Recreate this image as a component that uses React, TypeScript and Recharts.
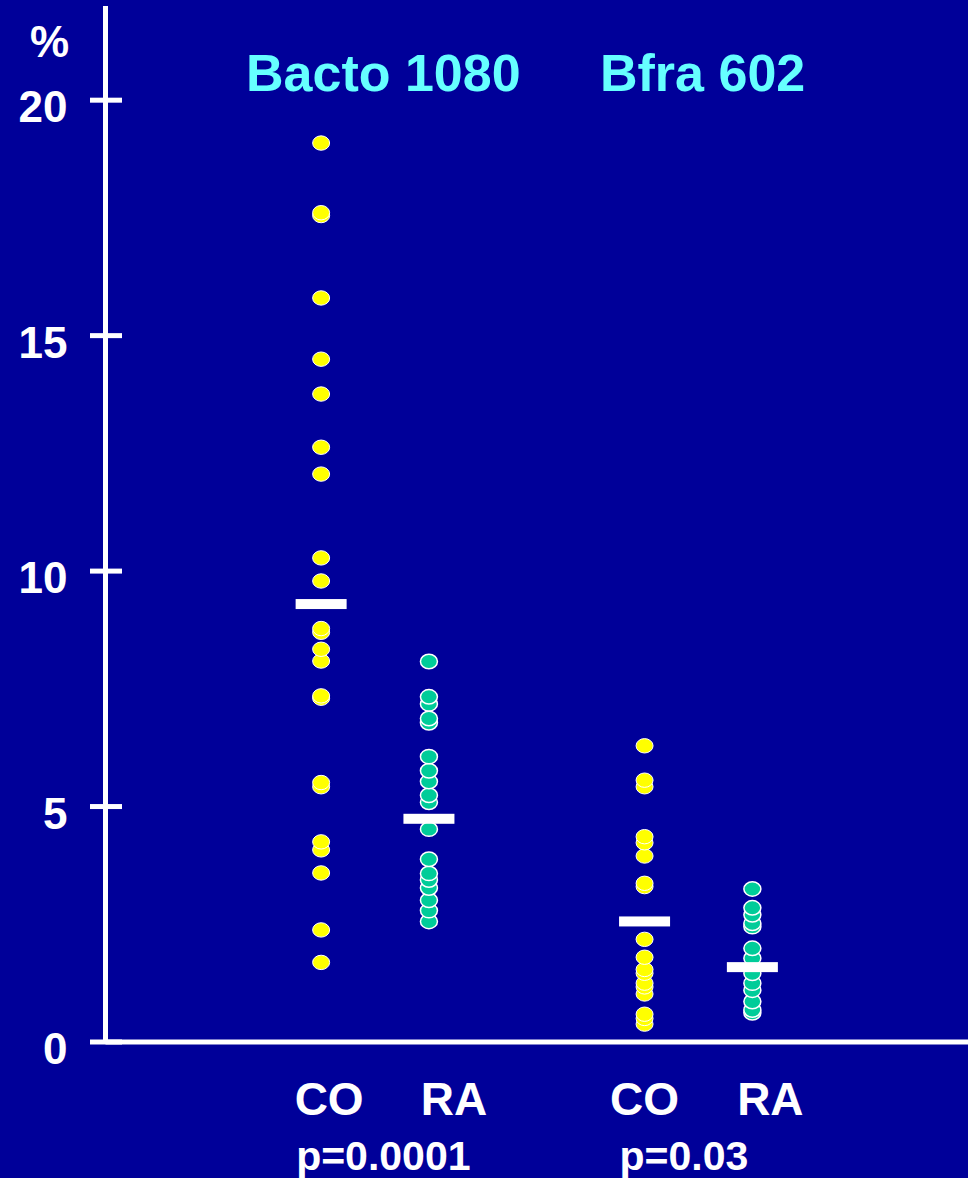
import React from "react";
import { ScatterChart, Scatter, XAxis, YAxis } from "recharts";

// ---- data ----
const GROUP_TITLES = ["Bacto 1080", "Bfra 602"];
const CATEGORY_LABELS = ["CO", "RA", "CO", "RA"];
const P_VALUES = ["p=0.0001", "p=0.03"];
const Y_TICKS = [0, 5, 10, 15, 20];

const bactoCO = [19.09, 17.61, 17.55, 15.8, 14.5, 13.76, 12.63, 12.06, 10.28, 9.79, 8.78, 8.7, 8.34, 8.09, 7.35, 7.3, 5.51, 5.42, 4.25, 4.08, 3.59, 2.38, 1.69];
const bactoRA = [8.08, 7.33, 7.18, 6.87, 6.78, 6.06, 5.76, 5.53, 5.24, 5.09, 4.52, 3.88, 3.58, 3.44, 3.27, 3.01, 2.79, 2.56];
const bfraCO = [6.29, 5.56, 5.42, 4.36, 4.23, 3.95, 3.37, 3.3, 2.18, 1.8, 1.54, 1.46, 1.25, 1.17, 1.02, 0.59, 0.5, 0.38];
const bfraRA = [3.25, 2.85, 2.7, 2.52, 2.45, 1.99, 1.78, 1.46, 1.25, 1.1, 0.86, 0.68, 0.62];
const MEANS = [9.3, 4.74, 2.56, 1.59];

// ---- layout ----
const W = 968;
const H = 1178;
const BG = "#000099";
const FONT = "'Liberation Sans', Arial, Helvetica, sans-serif";
const YELLOW = "#FFFF00";
const TEAL = "#00CC99";
const CYAN = "#66FFFF";

const colPos = (g: number, m: number) => 2 + 3 * g + m;
const X_TICKS = [colPos(0, 0), colPos(0, 1), colPos(1, 0), colPos(1, 1)];
const LABEL_DX = [8, 25, 0, 18];

const toPts = (vals: number[], x: number) =>
  [...vals].sort((a, b) => a - b).map((y) => ({ x, y }));

const columns = [
  { data: toPts(bactoCO, X_TICKS[0]), color: YELLOW, sw: 1 },
  { data: toPts(bactoRA, X_TICKS[1]), color: TEAL, sw: 1.5 },
  { data: toPts(bfraCO, X_TICKS[2]), color: YELLOW, sw: 1 },
  { data: toPts(bfraRA, X_TICKS[3]), color: TEAL, sw: 1.5 },
];
const meanData = MEANS.map((y, i) => ({ x: X_TICKS[i], y }));

const makeDot = (color: string, sw: number) => (props: any) => {
  const { cx, cy } = props;
  if (cx == null || cy == null) return <g />;
  return <ellipse cx={cx} cy={cy} rx={8.5} ry={7.2} fill={color} stroke="#FFFFFF" strokeWidth={sw} />;
};

const MeanBar = (props: any) => {
  const { cx, cy } = props;
  if (cx == null || cy == null) return <g />;
  return <rect x={cx - 25.5} y={cy - 5} width={51} height={10} fill="#FFFFFF" />;
};

const YTick = (props: any) => {
  const { x, y, payload } = props;
  return (
    <g>
      <line x1={x - 15.5} x2={x + 16.5} y1={y} y2={y} stroke="#FFFFFF" strokeWidth={5} />
      <text x={x - 38} y={y + 22} textAnchor="end" fill="#FFFFFF" fontFamily={FONT} fontWeight="bold" fontSize={44}>
        {payload.value}
      </text>
    </g>
  );
};

const XTick = (props: any) => {
  const { x, y, payload } = props;
  const idx = X_TICKS.indexOf(payload.value);
  if (idx < 0) return <g />;
  const isFirst = idx % 2 === 0;
  return (
    <g>
      <text x={x + LABEL_DX[idx]} y={y + 73} textAnchor="middle" fill="#FFFFFF" fontFamily={FONT} fontWeight="bold" fontSize={46}>
        {CATEGORY_LABELS[idx]}
      </text>
      {isFirst && (
        <text x={x - 25} y={y + 128} textAnchor="start" fill="#FFFFFF" fontFamily={FONT} fontWeight="bold" fontSize={41}>
          {P_VALUES[idx / 2]}
        </text>
      )}
    </g>
  );
};

export default function App() {
  return (
    <div style={{ position: "absolute", left: 0, top: 0, width: W, height: H, background: BG, overflow: "hidden" }}>
      <ScatterChart width={W} height={H} margin={{ top: 6, right: 0, bottom: 0, left: 0 }}>
        <XAxis
          type="number"
          dataKey="x"
          domain={[0, 8]}
          ticks={X_TICKS}
          interval={0}
          height={136}
          tickSize={0}
          tickMargin={0}
          tickLine={false}
          axisLine={{ stroke: "#FFFFFF", strokeWidth: 5 }}
          tick={<XTick />}
        />
        <YAxis
          type="number"
          dataKey="y"
          domain={[0, 22]}
          ticks={Y_TICKS}
          interval={0}
          width={105.5}
          tickSize={0}
          tickMargin={0}
          tickLine={false}
          axisLine={{ stroke: "#FFFFFF", strokeWidth: 5 }}
          tick={<YTick />}
        />
        {columns.map((c, i) => (
          <Scatter key={i} data={c.data} shape={makeDot(c.color, c.sw)} isAnimationActive={false} />
        ))}
        <Scatter data={meanData} shape={<MeanBar />} isAnimationActive={false} />
        <text x={30} y={57} fill="#FFFFFF" fontFamily={FONT} fontWeight="bold" fontSize={44}>%</text>
        <text x={246} y={91} fill={CYAN} fontFamily={FONT} fontWeight="bold" fontSize={52}>{GROUP_TITLES[0]}</text>
        <text x={600} y={91} fill={CYAN} fontFamily={FONT} fontWeight="bold" fontSize={52}>{GROUP_TITLES[1]}</text>
      </ScatterChart>
    </div>
  );
}
